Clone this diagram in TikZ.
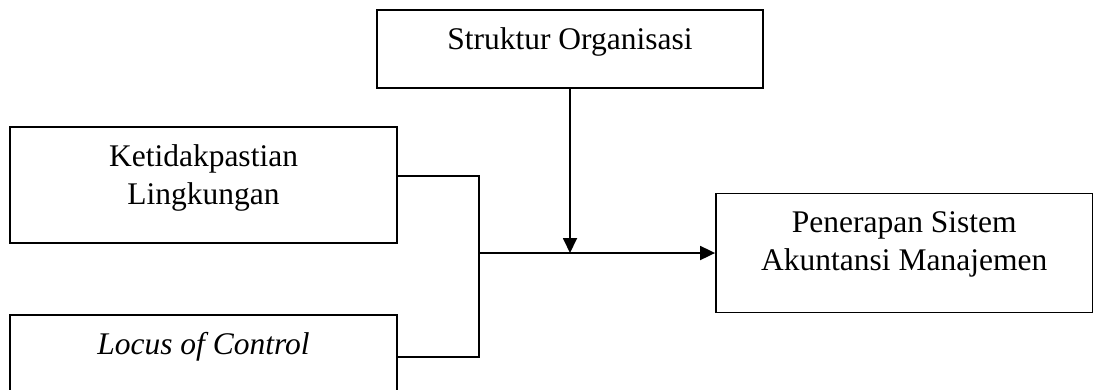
\documentclass[tikz,border=0pt]{standalone}
\usepackage{fontspec}
\setmainfont{Liberation Serif}
\usetikzlibrary{arrows.meta}

\tikzset{
  box/.style={draw, line width=1.8pt, minimum width=387pt, minimum height=116pt, inner sep=0pt},
  txt/.style={anchor=north, yshift=-18.5pt, inner sep=0pt, align=center,
              font=\fontsize{31.5}{38}\selectfont},
  link/.style={line width=1.8pt},
  arrow/.style={link, -{Triangle[length=15pt,width=14pt]}}
}

\begin{document}
\begin{tikzpicture}[x=1pt, y=-1pt]
\useasboundingbox (0,0) rectangle (1094,389);
\clip (0,0) rectangle (1094,389);

\node[box, minimum width=386pt, minimum height=78pt,
      label={[txt]north:{Struktur Organisasi}}] (str) at (570,49) {};
\node[box,
      label={[txt]north:{Ketidakpastian\\Lingkungan}}] (ket) at (203.5,185) {};
\node[box,
      label={[txt]north:{\textit{Locus of Control}}}] (loc) at (203.5,373) {};
\node[box, minimum width=376.5pt, minimum height=119pt,
      label={[txt]north:{Penerapan Sistem\\Akuntansi Manajemen}}] (pen) at (904.25,253) {};

\coordinate (j) at (479,253);

\draw[link] ([yshift=9pt]ket.east) -| (j);
\draw[link] ([yshift=-43pt]loc.north east) -| (j);
\draw[arrow] (j) -- (pen.west);
\draw[arrow] (str.south) -- (str.south |- j);
\end{tikzpicture}
\end{document}
